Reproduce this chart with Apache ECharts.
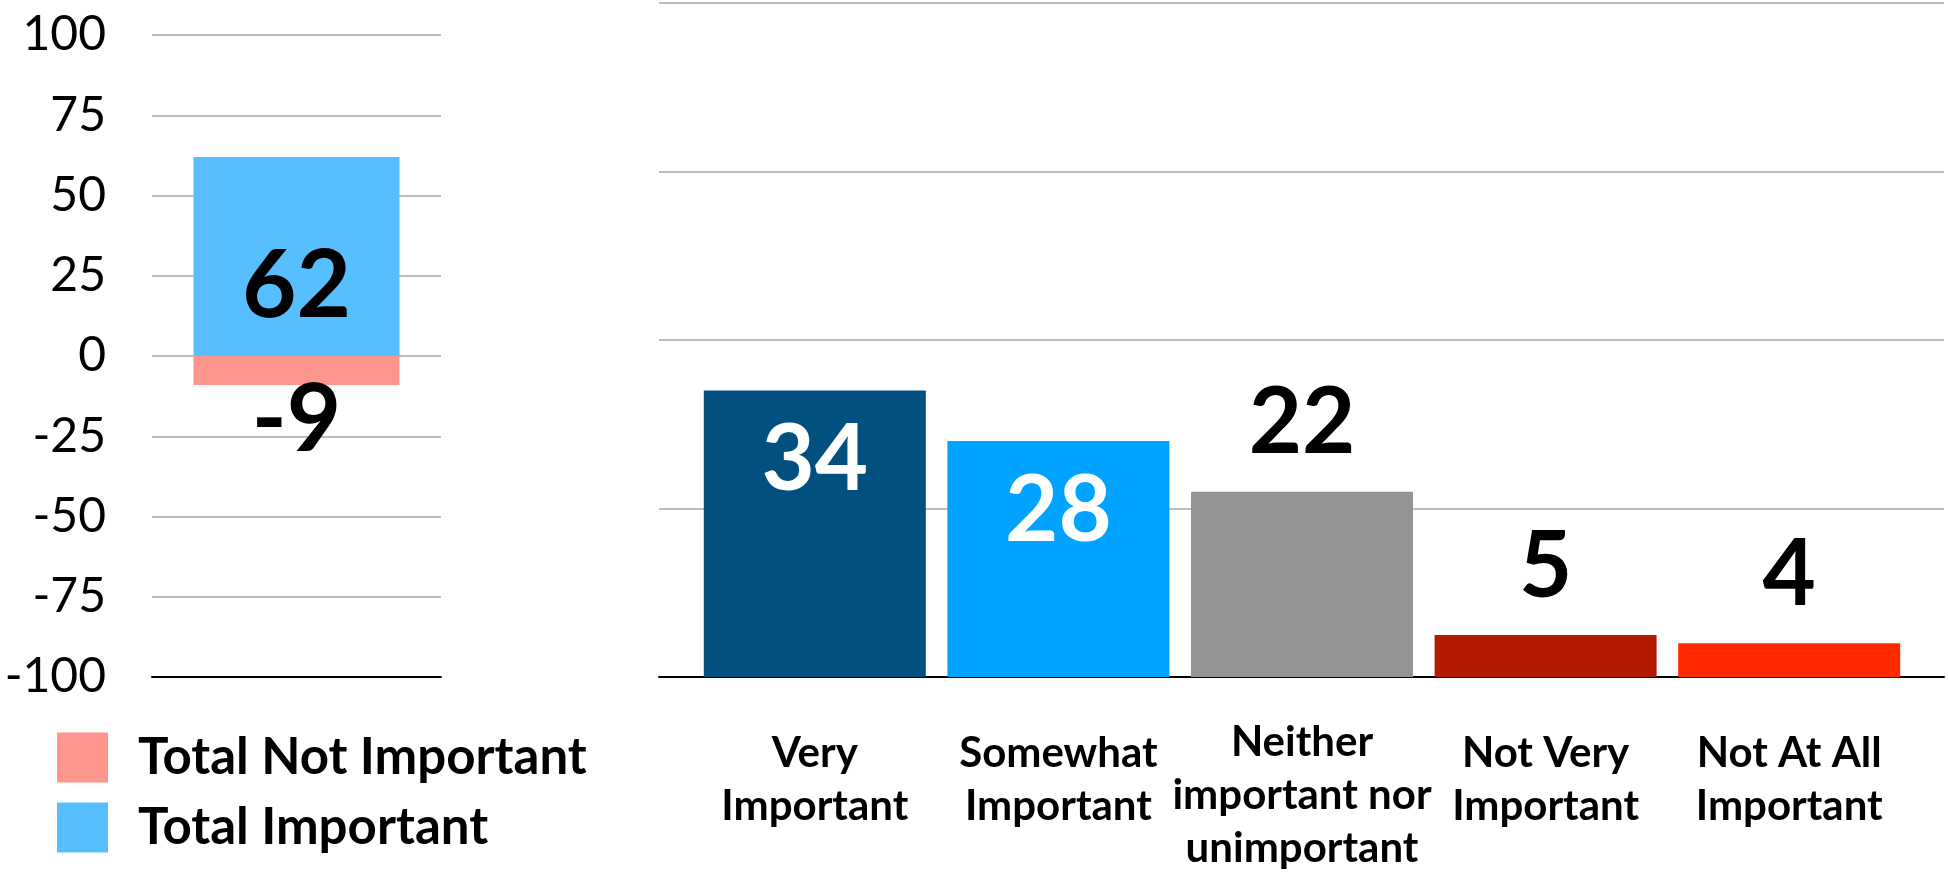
<!DOCTYPE html>
<html>
<head>
<meta charset="utf-8">
<script src="https://cdn.jsdelivr.net/npm/echarts@6/dist/echarts.min.js"></script>
<style>
  html, body { margin: 0; padding: 0; background: #fff; }
  #chart { width: 1948px; height: 877px; }
</style>
</head>
<body>
<div id="chart"></div>
<script>
  // left panel: net totals
  var totalNames = ['Total Not Important', 'Total Important'];
  var totalNotImportant = [-9];
  var totalImportant = [62];
  var leftTicks = [-100, -75, -50, -25, 0, 25, 50, 75, 100];

  // right panel: answer breakdown
  var answerCategories = ['Very\nImportant', 'Somewhat\nImportant', 'Neither\nimportant nor\nunimportant', 'Not Very\nImportant', 'Not At All\nImportant'];
  var answerValues = [34, 28, 22, 5, 4];
  var rightTicks = [0, 20, 40, 60, 80];

  var font = 'Lato';
  var answerColors = ['#02507f', '#00a3ff', '#939393', '#b31a00', '#ff2a00'];
  var insideWhite = [true, true, false, false, false];

  var chart = echarts.init(document.getElementById('chart'));

  // three-line label sits a bit higher than the two-line ones
  var categoryItems = answerCategories.map(function (c) {
    var lines = c.split('\n').length;
    return { value: c, textStyle: { padding: [lines > 2 ? 0 : 11, 0, 0, 0] } };
  });

  var option = {
    animation: false,
    textStyle: { fontFamily: font },
    legend: {
      data: totalNames,
      orient: 'vertical',
      left: 57,
      top: 732,
      padding: 0,
      icon: 'rect',
      itemWidth: 51,
      itemHeight: 50,
      itemGap: 19,
      textStyle: {
        fontSize: 51,
        fontWeight: 'bold',
        color: '#000',
        fontFamily: font,
        padding: [0, 0, 0, 25]
      }
    },
    grid: [
      { left: 152, top: 35, width: 289, height: 642, outerBoundsMode: 'none' },
      { left: 693, top: 3, width: 1218, height: 674, outerBoundsMode: 'none' },
      { left: 659, top: 3, width: 1285, height: 674, outerBoundsMode: 'none' }
    ],
    xAxis: [
      {
        gridIndex: 0,
        type: 'category',
        data: [''],
        axisLine: { onZero: false, lineStyle: { color: '#000', width: 2 } },
        axisTick: { show: false },
        axisLabel: { show: false }
      },
      {
        gridIndex: 1,
        type: 'category',
        data: categoryItems,
        axisLine: { show: false },
        axisTick: { show: false },
        axisLabel: {
          interval: 0,
          margin: 39,
          fontSize: 42,
          fontWeight: 'bold',
          lineHeight: 53,
          color: '#000',
          fontFamily: font,
          verticalAlign: 'top'
        }
      },
      {
        gridIndex: 2,
        type: 'category',
        data: [''],
        axisLine: { onZero: false, lineStyle: { color: '#000', width: 2 } },
        axisTick: { show: false },
        axisLabel: { show: false }
      }
    ],
    yAxis: [
      {
        gridIndex: 0,
        type: 'value',
        min: leftTicks[0],
        max: leftTicks[leftTicks.length - 1],
        interval: 25,
        axisLine: { show: false },
        axisTick: { show: false },
        axisLabel: { margin: 46, fontSize: 48, color: '#000', fontFamily: font },
        splitLine: { lineStyle: { color: '#bdbdbd', width: 2 } }
      },
      {
        gridIndex: 1,
        type: 'value',
        min: rightTicks[0],
        max: rightTicks[rightTicks.length - 1],
        interval: 20,
        show: false,
        splitLine: { show: false }
      },
      {
        gridIndex: 2,
        type: 'value',
        min: rightTicks[0],
        max: rightTicks[rightTicks.length - 1],
        interval: 20,
        axisLine: { show: false },
        axisTick: { show: false },
        axisLabel: { show: false },
        splitLine: { lineStyle: { color: '#bdbdbd', width: 2 } }
      }
    ],
    series: [
      {
        name: totalNames[0],
        type: 'bar',
        xAxisIndex: 0,
        yAxisIndex: 0,
        stack: 'total',
        barWidth: 206,
        data: totalNotImportant,
        itemStyle: { color: '#ff968e' },
        label: {
          show: true,
          position: 'inside',
          offset: [0, 50],
          fontSize: 94,
          fontWeight: 'bold',
          color: '#000',
          fontFamily: font
        }
      },
      {
        name: totalNames[1],
        type: 'bar',
        xAxisIndex: 0,
        yAxisIndex: 0,
        stack: 'total',
        barWidth: 206,
        data: totalImportant,
        itemStyle: { color: '#57bfff' },
        label: {
          show: true,
          position: 'inside',
          offset: [0, 30],
          fontSize: 94,
          fontWeight: 'bold',
          color: '#000',
          fontFamily: font
        }
      },
      {
        name: 'answers',
        type: 'bar',
        xAxisIndex: 1,
        yAxisIndex: 1,
        barWidth: 222,
        data: answerValues.map(function (v, i) {
          return {
            value: v,
            itemStyle: { color: answerColors[i] },
            label: insideWhite[i]
              ? { position: 'insideTop', distance: 24, color: '#fff' }
              : { position: 'top', distance: 22, color: '#000' }
          };
        }),
        label: {
          show: true,
          fontSize: 92,
          fontWeight: 'bold',
          fontFamily: font
        }
      }
    ]
  };

  chart.setOption(option);
</script>
</body>
</html>
